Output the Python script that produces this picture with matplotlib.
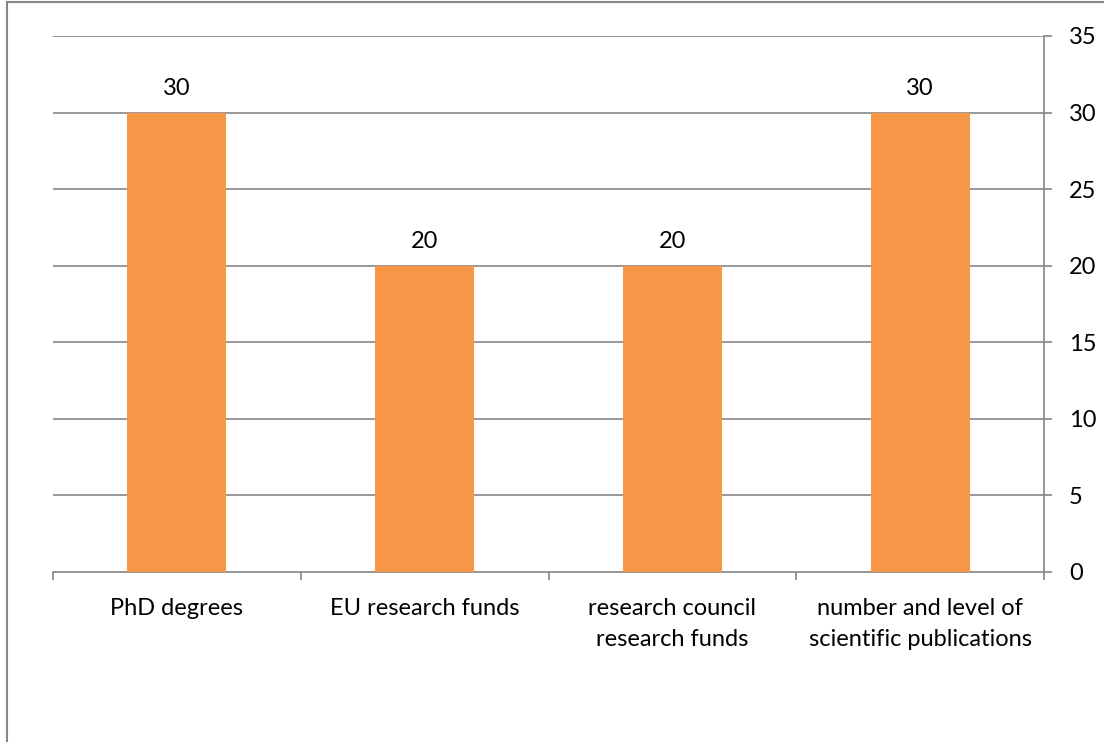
import matplotlib
matplotlib.use("Agg")
import matplotlib.pyplot as plt
from matplotlib.lines import Line2D

plt.rcParams['font.family'] = ['Lato', 'DejaVu Sans']

# chart data
categories = ["PhD degrees", "EU research funds", "research council\nresearch funds",
              "number and level of\nscientific publications"]
values = [30, 20, 20, 30]
y_ticks = [0, 5, 10, 15, 20, 25, 30, 35]

bar_color = "#F79646"
grid_color = "#868686"
fs = 17

fig = plt.figure(figsize=(11.04, 7.42), dpi=100)
W, H = 1104, 742
# plot area in pixels: x 53..1044, y 36..572
ax = fig.add_axes([53 / W, 1 - 572 / H, (1044 - 53) / W, (572 - 36) / H])

x = list(range(len(categories)))
ax.bar(x, values, width=0.4, color=bar_color, zorder=3)
for xi, v in zip(x, values):
    ax.text(xi, v + 1.17, str(v), ha="center", va="baseline", fontsize=fs, color="black")

ax.set_xlim(-0.5, len(categories) - 0.5)
ax.set_ylim(0, 35)

# y axis on the right
ax.yaxis.tick_right()
ax.set_yticks(y_ticks)
ax.set_yticklabels([str(t) for t in y_ticks], fontsize=fs)
ax.tick_params(axis="y", length=6, width=1.2, color=grid_color, pad=12)

# gridlines
for t in y_ticks[1:]:
    ax.axhline(t, color=grid_color, lw=1.2, zorder=1)

# x axis: ticks at category boundaries, labels centered
ax.set_xticks([i - 0.5 for i in range(len(categories) + 1)])
ax.set_xticklabels([])
ax.set_xticks(x, minor=True)
ax.set_xticklabels(categories, minor=True, fontsize=fs, linespacing=1.55)
ax.tick_params(axis="x", which="major", length=6, width=1.2, color=grid_color)
ax.tick_params(axis="x", which="minor", length=0, pad=19)

for side in ["top", "left"]:
    ax.spines[side].set_visible(False)
for side in ["bottom", "right"]:
    ax.spines[side].set_color(grid_color)
    ax.spines[side].set_linewidth(1.2)

# outer chart border (left and top visible)
fig.add_artist(Line2D([6.5 / W, 6.5 / W], [0, 1 - 2 / H], color=grid_color, lw=1.5))
fig.add_artist(Line2D([6.5 / W, 1], [1 - 2 / H, 1 - 2 / H], color=grid_color, lw=1.5))

fig.savefig("out.png", dpi=100)
